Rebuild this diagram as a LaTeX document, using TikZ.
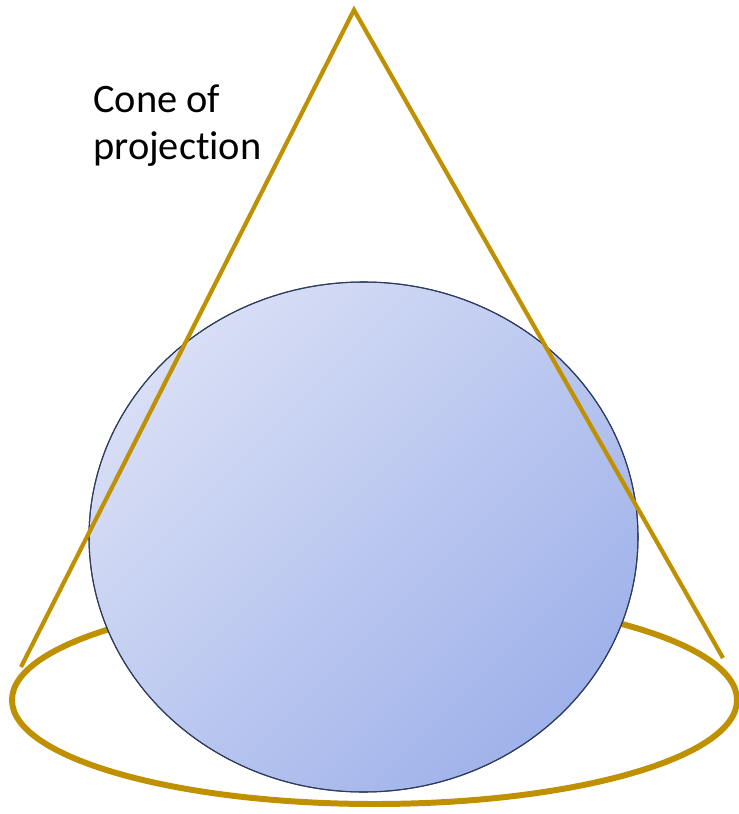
\documentclass[tikz,border=0pt]{standalone}
\usepackage{fontspec}
\setmainfont{Carlito}[Ligatures=NoCommon]
\usetikzlibrary{positioning}
\definecolor{coneGold}{HTML}{BF9000}
\definecolor{ballLight}{HTML}{D8DEF5}
\definecolor{ballDark}{HTML}{9FB2EA}
\definecolor{ballEdge}{HTML}{2E3D5C}

\begin{document}
\begin{tikzpicture}[x=0.02cm,y=-0.02cm,
  rim/.style={draw=coneGold,line width=3.4pt},
  side/.style={draw=coneGold,line width=2.4pt,line join=miter},
  ball/.style={draw=ballEdge,line width=0.6pt,top color=ballLight,bottom color=ballDark,shading angle=45},
  label/.style={font=\fontsize{23}{27}\selectfont,align=left,inner sep=0pt,anchor=base west}]
\useasboundingbox (0,0) rectangle (739,814);
\coordinate (apex) at (354,10);
\coordinate (baseL) at (21,667);
\coordinate (baseR) at (723,658);
% base of the cone, then the sphere over it
\draw[rim] (374.5,700) ellipse [x radius=362.5,y radius=104];
\shade[ball] (363.5,537) ellipse [x radius=274.5,y radius=255];
\draw[draw=ballEdge,line width=0.6pt] (363.5,537) ellipse [x radius=274.5,y radius=255];
\draw[side] (baseL) -- (apex) -- (baseR);
\node[label] (title) at (93,160) {Cone of\\projection};
\end{tikzpicture}
\end{document}
